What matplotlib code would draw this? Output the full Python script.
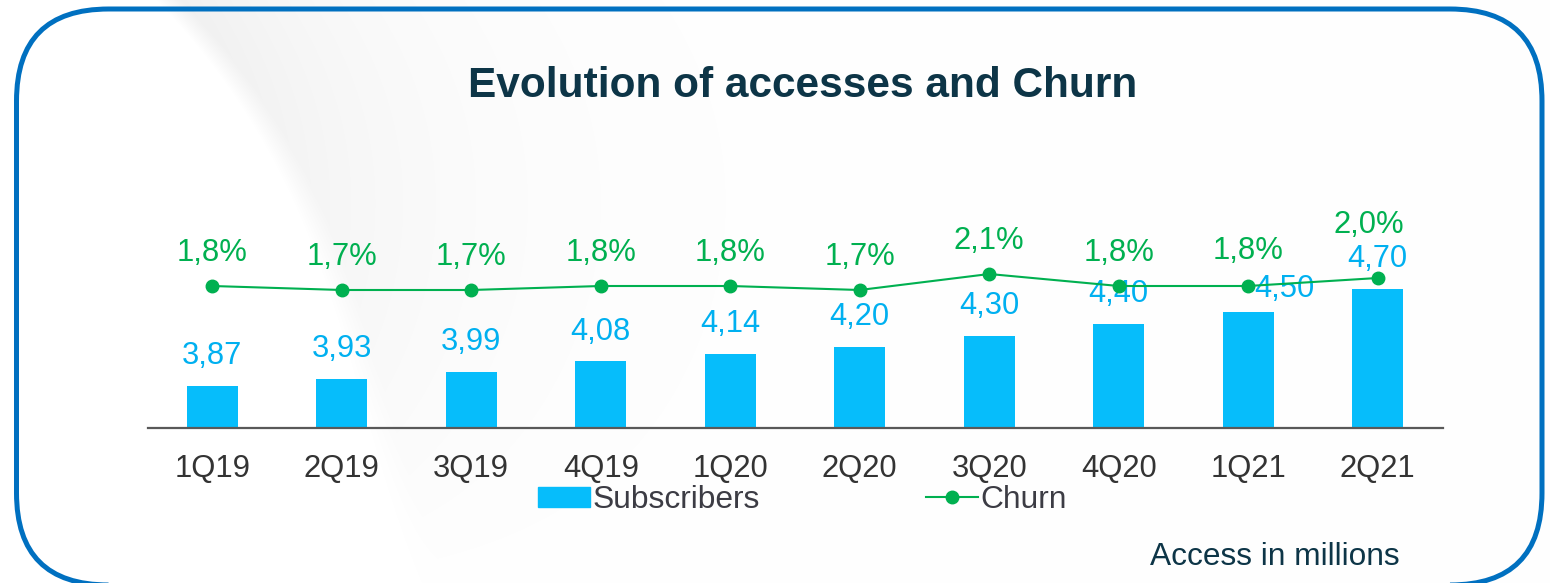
import numpy as np
import matplotlib
matplotlib.use("Agg")
import matplotlib.pyplot as plt
from matplotlib.patches import FancyBboxPatch

plt.rcParams['font.family'] = ['Liberation Sans', 'DejaVu Sans']

trimestres = ["1Q19", "2Q19", "3Q19", "4Q19", "1Q20", "2Q20", "3Q20", "4Q20", "1Q21", "2Q21"]
suscriptores = [3.87, 3.93, 3.99, 4.08, 4.14, 4.20, 4.30, 4.40, 4.50, 4.70]
churn = [1.8, 1.7, 1.7, 1.8, 1.8, 1.7, 2.1, 1.8, 1.8, 2.0]

azul_barra = "#06BDFB"
azul_texto = "#00B0F0"
verde = "#00B050"
marino = "#0D3547"

W, H = 1550, 583
fig = plt.figure(figsize=(W / 100, H / 100), dpi=100)

# fondo: marco redondeado y el brillo gris de arriba a la izquierda
fondo = fig.add_axes([0, 0, 1, 1], zorder=0)
fondo.set_xlim(0, W)
fondo.set_ylim(0, H)
fondo.axis("off")

yy, xx = np.mgrid[0:H, 0:W]
curva = np.polyfit([0, 50, 133, 233, 333, 433, 583], [150, 210, 260, 300, 340, 377, 420], 3)
borde_x = np.polyval(curva, yy)
dist = xx - borde_x
brillo = np.clip(dist / 25.0, 0, 1) * np.exp(-np.clip(dist, 0, None) / 180.0)
brillo = brillo * np.clip(1 - yy / 600.0, 0, 1)
gris = 1 - 0.065 * brillo
img = np.dstack([gris, gris, gris])
fondo.imshow(img, extent=[0, W, 0, H], origin="upper", aspect="auto", zorder=0)

r = 92
marco = FancyBboxPatch((16.5 + r, (H - 585) + r), 1542 - 16.5 - 2 * r, 585 - 9 - 2 * r,
                       boxstyle=f"round,pad={r}", fill=False, edgecolor="#0070C0",
                       linewidth=3.6, zorder=1)
fondo.add_patch(marco)

# grafico principal
ax = fig.add_axes([147.5 / W, 155 / H, 1295 / W, 278 / H], zorder=2)
ax.patch.set_alpha(0)
x = np.arange(len(trimestres))
ax.bar(x, suscriptores, width=0.39, color=azul_barra, zorder=2)
ax.set_xlim(-0.5, 9.5)
ax.set_ylim(3.51, 5.888)
for lado in ["top", "right", "left"]:
    ax.spines[lado].set_visible(False)
ax.spines["bottom"].set_color("#595959")
ax.spines["bottom"].set_linewidth(1.6)
ax.set_yticks([])
ax.set_xticks(x)
ax.set_xticklabels(trimestres, fontsize=22.3, color="#333333")
ax.tick_params(axis="x", length=0, pad=19)

desp_barras = [(0, 21.5)] * len(suscriptores)
desp_barras[8] = (26, 16.5)
for i, v in enumerate(suscriptores):
    ax.annotate(f"{v:.2f}".replace(".", ","), (x[i], v), xytext=desp_barras[i],
                textcoords="offset points", ha="center", va="center",
                fontsize=22.2, color=azul_texto, zorder=4)

ax2 = ax.twinx()
ax2.set_ylim(-1.75, 5.2)
ax2.axis("off")
ax2.plot(x, churn, color=verde, linewidth=1.5, marker="o", markersize=9, zorder=3)

desp_churn = [(0, 24)] * len(churn)
desp_churn[8] = (0, 25)
desp_churn[9] = (-6.5, 38)
for i, v in enumerate(churn):
    ax2.annotate(f"{v:.1f}%".replace(".", ","), (x[i], v), xytext=desp_churn[i],
                 textcoords="offset points", ha="center", va="center",
                 fontsize=22.3, color=verde)

# leyenda
h1 = plt.Rectangle((0, 0), 1, 1, color=azul_barra)
h2, = ax.plot([], [], color=verde, linewidth=1.5, marker="o", markersize=9)
fig.legend([h1, h2], ["Subscribers", "Churn"], loc="center",
           bbox_to_anchor=(802.5 / W, 1 - 500 / H), ncol=2, frameon=False,
           fontsize=22.9, labelcolor="#3C3C44", handlelength=1.635, handleheight=0.585,
           handletextpad=0.1, columnspacing=5.2, borderpad=0)

fig.text(803 / W, 1 - 86 / H, "Evolution of accesses and Churn", ha="center", va="center",
         fontsize=30.5, fontweight="bold", color=marino)
fig.text(1150 / W, 1 - 557 / H, "Access in millions", ha="left", va="center",
         fontsize=22.8, color=marino)

fig.savefig("out.png", dpi=100)
